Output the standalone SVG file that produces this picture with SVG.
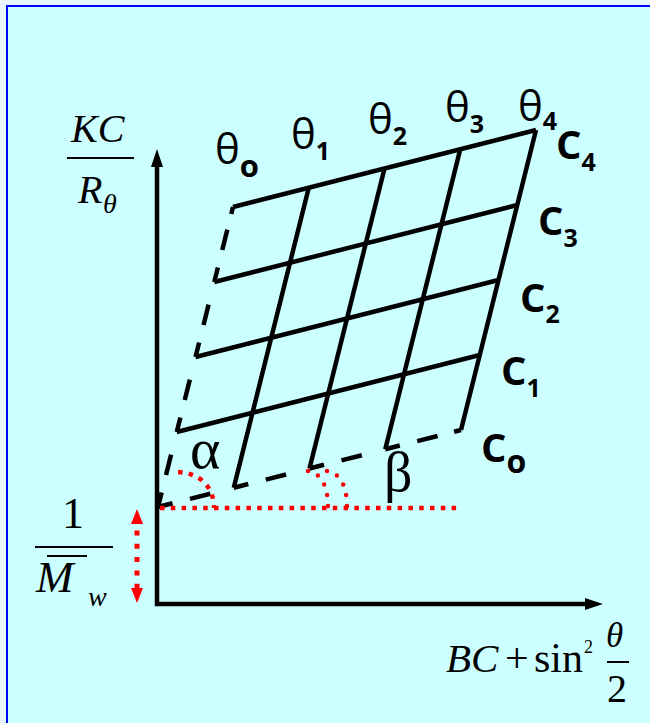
<svg xmlns="http://www.w3.org/2000/svg" width="650" height="723" viewBox="0 0 650 723">
<style>
.grid{stroke:#000;stroke-width:4.5;fill:none}
.dash{stroke:#000;stroke-width:4.5;fill:none;stroke-dasharray:15 18 21 40}
.axis{stroke:#000;stroke-width:4.5;fill:none}
.rdot{stroke:#FF0000;stroke-width:4.5;fill:none;stroke-dasharray:4.5 6.3}
.rround{stroke:#FF0000;stroke-width:4.5;fill:none;stroke-linecap:round;stroke-dasharray:0 11}
.math{font-family:"Liberation Serif","Times New Roman",serif;fill:#000}
.it{font-style:italic}
.lab{font-family:"Open Sans","Noto Sans",sans-serif;fill:#000}
.sub{font-weight:bold}
.frac{stroke:#000;stroke-width:2}
</style>
<defs>
<marker id="ah" markerUnits="userSpaceOnUse" markerWidth="18" markerHeight="12" viewBox="0 0 18 12" refX="1" refY="6" orient="auto-start-reverse"><path d="M0,0 L18,6 L0,12 Z" fill="#000"/></marker>
<marker id="rah" markerUnits="userSpaceOnUse" markerWidth="15" markerHeight="12" viewBox="0 0 15 12" refX="0" refY="6" orient="auto-start-reverse"><path d="M0,0 L15,6 L0,12 Z" fill="#FF0000"/></marker>
</defs>
<rect x="0" y="0" width="650" height="723" fill="#E8F4FF"/>
<rect x="7" y="6" width="700" height="800" fill="#CCFFFF" stroke="#0000FF" stroke-width="2"/>

<g id="axes">
<path class="axis" d="M157,166 L157,604 L586,604" marker-start="url(#ah)" marker-end="url(#ah)"/>
</g>

<g id="connectors">
<g id="c-lines">
<line class="grid" x1="233" y1="207" x2="536" y2="130"/>
<line class="grid" x1="214.25" y1="282" x2="517.25" y2="205"/>
<line class="grid" x1="195.5" y1="357" x2="498.5" y2="280"/>
<line class="grid" x1="176.75" y1="432" x2="479.75" y2="355"/>
</g>
<g id="theta-lines">
<line class="grid" x1="308.75" y1="187.75" x2="233.75" y2="487.75"/>
<line class="grid" x1="384.5" y1="168.5" x2="309.5" y2="468.5"/>
<line class="grid" x1="460.25" y1="149.25" x2="385.25" y2="449.25"/>
<line class="grid" x1="536" y1="130" x2="461" y2="430"/>
</g>
<g id="theta0-dashed">
<line class="dash" x1="158" y1="507" x2="176.75" y2="432"/>
<line class="dash" x1="176.75" y1="432" x2="195.5" y2="357"/>
<line class="dash" x1="195.5" y1="357" x2="214.25" y2="282"/>
<line class="dash" x1="214.25" y1="282" x2="233" y2="207"/>
<line class="grid" x1="231.3" y1="214" x2="233" y2="207"/>
</g>
<g id="c0-dashed">
<line class="dash" x1="158" y1="507" x2="233.75" y2="487.75"/>
<line class="dash" x1="233.75" y1="487.75" x2="309.5" y2="468.5"/>
<line class="dash" x1="309.5" y1="468.5" x2="385.25" y2="449.25"/>
<line class="dash" x1="385.25" y1="449.25" x2="461" y2="430"/>
<line class="grid" x1="454" y1="431.8" x2="461" y2="430"/>
</g>
<g id="red-marks">
<line class="rdot" x1="160" y1="508" x2="460" y2="508"/>
<path class="rdot" d="M178,472 C200,473 214,487 214,508"/>
<path class="rround" d="M308,471 C320,473 328,484 328,507"/>
<path class="rround" d="M327,471 C339,473 347,484 347,507"/>
<line x1="137" y1="524" x2="137" y2="588" stroke="#FF0000" stroke-width="5" stroke-dasharray="5 8.3" stroke-dashoffset="6.8" marker-start="url(#rah)" marker-end="url(#rah)"/>
</g>
</g>

<g id="y-label">
<text class="math it" x="71" y="142" font-size="40">KC</text>
<line class="frac" x1="67" y1="158" x2="134" y2="158"/>
<text class="math it" x="78" y="203" font-size="40">R</text>
<text class="math it" x="103" y="213" font-size="28">θ</text>
</g>

<g id="intercept-label">
<text class="math" x="62" y="528" font-size="44">1</text>
<line class="frac" x1="35" y1="547" x2="113" y2="547"/>
<line class="frac" x1="47" y1="556" x2="87" y2="556"/>
<text class="math it" x="36" y="592" font-size="45">M</text>
<text class="math it" x="88" y="606" font-size="28">w</text>
</g>

<g id="x-label">
<text class="math it" x="446" y="672" font-size="41">BC</text>
<text class="math" x="505" y="672" font-size="42">+</text>
<text class="math" x="534" y="672" font-size="42">sin</text>
<text class="math" x="584" y="653" font-size="18">2</text>
<text class="math it" x="606" y="647" font-size="35">θ</text>
<line class="frac" x1="607" y1="662" x2="629" y2="662"/>
<text class="math" x="607" y="702" font-size="40">2</text>
</g>

<g id="theta-labels">
<text class="lab" x="215" y="164" font-size="42">θ<tspan class="sub" font-size="31" dy="13">o</tspan></text>
<text class="lab" x="291" y="149" font-size="42">θ<tspan class="sub" font-size="25" dy="11">1</tspan></text>
<text class="lab" x="368" y="134" font-size="42">θ<tspan class="sub" font-size="25" dy="11">2</tspan></text>
<text class="lab" x="445" y="122" font-size="42">θ<tspan class="sub" font-size="25" dy="11">3</tspan></text>
<text class="lab" x="518" y="121" font-size="42">θ<tspan class="sub" font-size="25" dy="9">4</tspan></text>
</g>

<g id="c-labels">
<text class="lab sub" x="556" y="159" font-size="40">C<tspan font-size="25" dy="12">4</tspan></text>
<text class="lab sub" x="538" y="235" font-size="40">C<tspan font-size="25" dy="12">3</tspan></text>
<text class="lab sub" x="520" y="312" font-size="40">C<tspan font-size="25" dy="11">2</tspan></text>
<text class="lab sub" x="501" y="385" font-size="40">C<tspan font-size="25" dy="12">1</tspan></text>
<text class="lab sub" x="481" y="462" font-size="40">C<tspan font-size="32" dy="11">o</tspan></text>
</g>

<g id="angle-labels">
<text class="math" x="190" y="468" font-size="58">α</text>
<text class="math" x="384" y="491" font-size="56">β</text>
</g>
</svg>
